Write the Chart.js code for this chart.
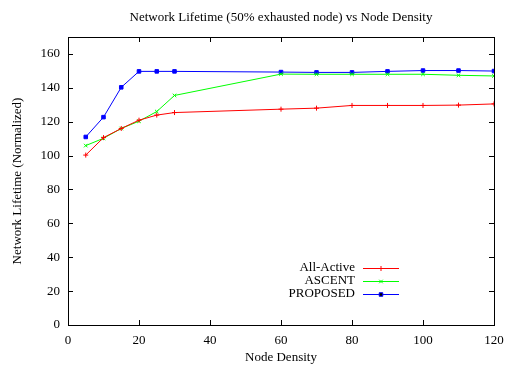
<!DOCTYPE html>
<html>
<head>
<meta charset="utf-8">
<script src="https://cdn.jsdelivr.net/npm/chart.js@4/dist/chart.umd.min.js"></script>
<style>
  html, body { margin: 0; padding: 0; background: #fff; }
  #wrap { width: 507px; height: 365px; position: relative; }
</style>
</head>
<body>
<div id="wrap"><canvas id="chart"></canvas></div>
<script>
/* ---------- DATA ---------- */
const nodeDensity = [5, 10, 15, 20, 25, 30, 60, 70, 80, 90, 100, 110, 120];
const allActive = [100.3, 110.6, 116, 120.9, 123.9, 125.4, 127.4, 128, 129.6, 129.6, 129.6, 129.8, 130.5];
const ascent    = [105.9, 110.2, 116, 120.3, 126, 135.5, 148.1, 148, 148, 148, 148, 147.4, 147];
const proposed  = [111, 122.7, 140.3, 149.7, 149.7, 149.7, 149.3, 149.1, 149.1, 149.7, 150.2, 150.2, 149.9];
const xTicks = [0, 20, 40, 60, 80, 100, 120];
const yTicks = [0, 20, 40, 60, 80, 100, 120, 140, 160];
const chartTitle = 'Network Lifetime (50% exhausted node) vs Node Density';

const FONT = "'Liberation Serif', 'DejaVu Serif', serif";

function toPoints(ys) {
  return nodeDensity.map((x, i) => ({ x: x, y: ys[i] }));
}

/* ---------- gnuplot-like frame, inner ticks, title, legend ---------- */
const frameAndLegend = {
  id: 'frameAndLegend',
  afterDatasetsDraw(chart) {
    const { ctx, chartArea: a, scales } = chart;
    ctx.save();
    ctx.strokeStyle = '#000';
    ctx.lineWidth = 1;
    ctx.strokeRect(Math.round(a.left) + 0.5, Math.round(a.top) + 0.5,
      Math.round(a.right - a.left), Math.round(a.bottom - a.top));
    const tl = 5;
    ctx.beginPath();
    xTicks.forEach(v => {
      const px = Math.round(scales.x.getPixelForValue(v)) + 0.5;
      ctx.moveTo(px, a.bottom); ctx.lineTo(px, a.bottom - tl);
      ctx.moveTo(px, a.top); ctx.lineTo(px, a.top + tl);
    });
    yTicks.forEach(v => {
      const py = Math.round(scales.y.getPixelForValue(v)) + 0.5;
      ctx.moveTo(a.left, py); ctx.lineTo(a.left + tl, py);
      ctx.moveTo(a.right, py); ctx.lineTo(a.right - tl, py);
    });
    ctx.stroke();

    // title centred over the plot area
    ctx.font = '13px ' + FONT;
    ctx.fillStyle = '#000';
    ctx.textAlign = 'center';
    ctx.textBaseline = 'middle';
    ctx.fillText(chartTitle, (a.left + a.right) / 2, 18);

    // legend: text right-aligned, sample line on the right
    ctx.textAlign = 'right';
    chart.data.datasets.forEach((ds, i) => {
      const y = 268 + i * 13;
      ctx.fillStyle = '#000';
      ctx.fillText(ds.label, 355, y);
      ctx.strokeStyle = ds.borderColor;
      ctx.lineWidth = 1;
      ctx.beginPath();
      ctx.moveTo(363, y + 0.5); ctx.lineTo(399, y + 0.5);
      ctx.stroke();
      Chart.helpers.drawPoint(ctx, {
        pointStyle: ds.pointStyle, radius: 2.5, borderWidth: 1
      }, 381, y + 0.5);
    });
    ctx.restore();
  }
};

function series(label, data, color, style) {
  return {
    label: label,
    data: toPoints(data),
    borderColor: color,
    backgroundColor: color,
    borderWidth: 1,
    pointStyle: style,
    pointRadius: 2.5,
    pointBorderWidth: 1,
    pointBorderColor: color,
    pointBackgroundColor: color,
    tension: 0
  };
}

new Chart(document.getElementById('chart'), {
  type: 'line',
  data: {
    datasets: [
      series('All-Active', allActive, '#ff0000', 'cross'),
      series('ASCENT', ascent, '#00ff00', 'crossRot'),
      series('PROPOSED', proposed, '#0000ff', 'rect')
    ]
  },
  plugins: [frameAndLegend],
  options: {
    responsive: true,
    maintainAspectRatio: false,
    animation: false,
    layout: { padding: { left: 10, right: 13, top: 37, bottom: 0 } },
    plugins: {
      legend: { display: false },
      tooltip: { enabled: false },
      title: { display: false }
    },
    scales: {
      x: {
        type: 'linear',
        min: 0, max: 120,
        afterBuildTicks: s => { s.ticks = xTicks.map(v => ({ value: v })); },
        afterFit: s => { s.height = 40; s.paddingLeft = 0; s.paddingRight = 0; },
        grid: { display: false, drawTicks: false },
        border: { display: false },
        ticks: { color: '#000', padding: 8, font: { family: FONT, size: 13 } },
        title: {
          display: true, text: 'Node Density', color: '#000',
          font: { family: FONT, size: 13 }, padding: 0
        }
      },
      y: {
        min: 0, max: 170,
        afterBuildTicks: s => { s.ticks = yTicks.map(v => ({ value: v })); },
        afterFit: s => { s.width = 58; s.paddingTop = 0; s.paddingBottom = 0; },
        grid: { display: false, drawTicks: false },
        border: { display: false },
        ticks: { color: '#000', padding: 8, font: { family: FONT, size: 13 } },
        title: {
          display: true, text: 'Network Lifetime (Normalized)', color: '#000',
          font: { family: FONT, size: 13 }, padding: 0
        }
      }
    }
  }
});
</script>
</body>
</html>
